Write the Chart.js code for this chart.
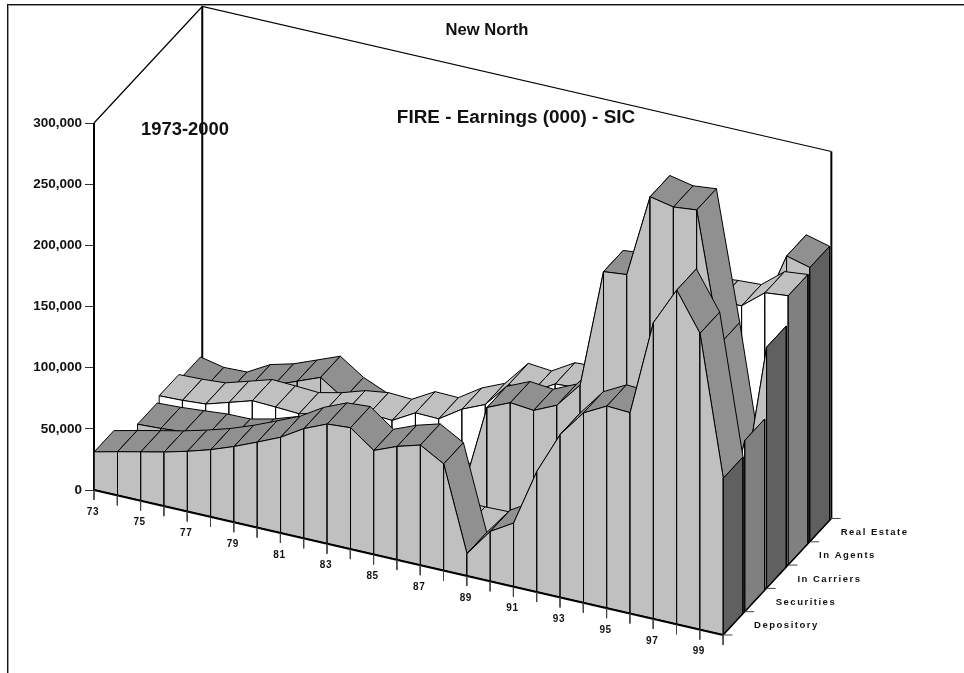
<!DOCTYPE html>
<html lang="en">
<head>
  <meta charset="UTF-8" />
  <title>New North - FIRE Earnings</title>
  <script src="https://cdn.jsdelivr.net/npm/chart.js"></script>
  <style>
    body { margin: 0; background: white; overflow: hidden; }
    #frame {
      position: absolute;
      left: 7px;
      top: 4px;
      right: -5px;
      bottom: -5px;
      border: 1px solid #111;
      box-shadow: inset 0 1px 0 #999, inset 1px 0 0 #999;
    }
    #wrap { position: absolute; left: 0; top: 0; width: 964px; height: 673px; }
  </style>
</head>
<body>
  <div id="frame"></div>
  <div id="wrap"><canvas id="surface" width="964" height="673"></canvas></div>

  <script>
    const yearLabels = ['73', '75', '77', '79', '81', '83', '85', '87', '89', '91', '93', '95', '97', '99'];
    const seriesNames = ['Depository', 'Securities', 'In Carriers', 'In Agents', 'Real Estate'];
    const yTicks = [0, 50000, 100000, 150000, 200000, 250000, 300000];

    // yearly values 1973-2000 (hidden stretches are estimates)
    const depository = [31000, 35500, 39800, 44000, 49000, 54700, 61700, 69700, 78000, 89500, 97600, 99000, 84800, 92500, 98000, 87000, 18000, 40600, 51800, 98500, 133000, 155000, 165000, 164000, 242000, 273000, 242000, 128000];
    const securities = [10000, 10000, 10000, 12000, 14000, 16000, 18000, 20000, 22000, 24000, 24000, 22000, 20000, 18000, 16000, 15500, 16000, 20000, 30000, 60000, 90000, 100000, 100000, 100000, 120000, 120000, 60000, 140000];
    const inCarriers = [15500, 16400, 18000, 19700, 20000, 24400, 30700, 33000, 34000, 36000, 30000, 28000, 26000, 25000, 25000, 95000, 103300, 101400, 110000, 131000, 228000, 230000, 298000, 294000, 296000, 191000, 76000, 197000];
    const inAgents = [19700, 20300, 21700, 27400, 33200, 32400, 31300, 35600, 41700, 44400, 43400, 54000, 53500, 65800, 74000, 94700, 92900, 104000, 105000, 120000, 140000, 170000, 190000, 200000, 202000, 203000, 218000, 220000];
    const realEstate = [15000, 10900, 11500, 22000, 27000, 34500, 42000, 29000, 20800, 15000, 18000, 20000, 22000, 25000, 30000, 40000, 50000, 80000, 120000, 150000, 170000, 180000, 180000, 170000, 160000, 182000, 229000, 224000];

    const allSeries = [depository, securities, inCarriers, inAgents, realEstate];

    // oblique projection, in scale units
    const yearsMax = 27;
    const depthX = 21.65 / 23.3;   // year widths per depth step
    const depthY = 19050;          // value units per depth step
    const yearDrop = 4390;         // value units per year
    const ribbonFront = 0.01;
    const ribbonBack = 0.92;

    function project(year, depth, value) {
      return { x: year + depth * depthX, y: value - year * yearDrop + depth * depthY };
    }

    const painted = [];

    function poly(points, fillColor, width) {
      painted.push({
        data: points.concat([points[0]]),
        fill: 'shape',
        backgroundColor: fillColor,
        borderColor: '#000',
        borderWidth: width || 1,
        tension: 0,
        pointRadius: 0,
        clip: false
      });
    }

    function line(points, width, color) {
      painted.push({
        data: points,
        fill: false,
        borderColor: color || '#000',
        borderWidth: width,
        tension: 0,
        pointRadius: 0,
        clip: false
      });
    }

    // walls
    line([project(0, 0, 0), project(0, 0, 300000)], 2);
    line([project(0, 0, 300000), project(0, 5, 300000), project(yearsMax, 5, 300000)], 1.2);
    line([project(0, 5, 0), project(0, 5, 300000)], 2);
    line([project(yearsMax, 5, 0), project(yearsMax, 5, 300000)], 2);

    // ribbons back to front
    for (let k = allSeries.length - 1; k >= 0; k--) {
      const values = allSeries[k];
      const even = k % 2 === 0;
      const topColor = even ? '#909090' : '#c0c0c0';
      const faceColor = even ? '#c0c0c0' : '#ffffff';
      const sideColor = even ? '#606060' : '#808080';
      const front = k + ribbonFront;
      const back = k + ribbonBack;
      for (let i = 0; i < values.length - 1; i++) {
        poly([project(i, front, values[i]), project(i + 1, front, values[i + 1]),
              project(i + 1, back, values[i + 1]), project(i, back, values[i])], topColor);
        poly([project(i, front, 0), project(i, front, values[i]),
              project(i + 1, front, values[i + 1]), project(i + 1, front, 0)], faceColor);
      }
      const last = values.length - 1;
      poly([project(last, front, 0), project(last, front, values[last]),
            project(last, back, values[last]), project(last, back, 0)], sideColor);
    }

    // floor edges and ticks
    line([project(0, 0, 0), project(yearsMax, 0, 0)], 2);
    line([project(yearsMax, 0, 0), project(yearsMax, 5, 0)], 1.5);
    for (let i = 0; i <= yearsMax; i++) {
      line([project(i, 0, 0), project(i, 0, -8200)], 1, '#444');
    }
    for (let k = 0; k <= 5; k++) {
      const p = project(yearsMax, k, 0);
      line([p, { x: p.x + 0.4, y: p.y }], 1, '#444');
    }

    const textPlugin = {
      id: 'chartText',
      afterDraw(chart) {
        const ctx = chart.ctx;
        const sx = chart.scales.x;
        const sy = chart.scales.y;
        ctx.save();
        ctx.fillStyle = '#111';
        ctx.textBaseline = 'middle';

        ctx.textAlign = 'center';
        ctx.font = 'bold 16.6px "Liberation Sans"';
        ctx.fillText('New North', 487, 30);
        ctx.font = 'bold 18.9px "Liberation Sans"';
        ctx.fillText('FIRE - Earnings (000) - SIC', 516, 118);
        ctx.font = 'bold 18.4px "Liberation Sans"';
        ctx.fillText('1973-2000', 185, 130);

        ctx.font = 'bold 10px "Liberation Sans"';
        ctx.letterSpacing = '0.6px';
        yearLabels.forEach((label, n) => {
          const p = project(n * 2, 0, 0);
          ctx.fillText(label, sx.getPixelForValue(p.x) - 1, sy.getPixelForValue(p.y) + 22);
        });

        ctx.textAlign = 'left';
        ctx.font = 'bold 9.5px "Liberation Sans"';
        ctx.letterSpacing = '1.5px';
        seriesNames.forEach((label, k) => {
          const p = project(yearsMax, k, 0);
          ctx.fillText(label, sx.getPixelForValue(p.x) + 31, sy.getPixelForValue(p.y) - 9.5);
        });
        ctx.restore();
      }
    };

    new Chart(document.getElementById('surface'), {
      type: 'line',
      data: { datasets: painted.reverse() },
      plugins: [textPlugin],
      options: {
        responsive: false,
        animation: false,
        events: [],
        layout: { padding: 0 },
        plugins: { legend: { display: false }, tooltip: { enabled: false }, title: { display: false } },
        scales: {
          x: { type: 'linear', display: false, min: 0, max: 37.339 },
          y: {
            type: 'linear',
            min: -149591,
            max: 400545,
            afterBuildTicks: scale => { scale.ticks = yTicks.map(v => ({ value: v })); },
            afterFit: scale => {
              scale.width = 94;
              scale.paddingTop = 0;
              scale.paddingBottom = 0;
            },
            border: { display: false },
            grid: { drawOnChartArea: false, drawTicks: true, tickLength: 9, color: '#333' },
            ticks: {
              autoSkip: false,
              padding: 3,
              color: '#111',
              font: { family: '"Liberation Sans"', size: 13.5, weight: 'bold' },
              callback: v => v.toLocaleString('en-US')
            }
          }
        }
      }
    });
  </script>
</body>
</html>
